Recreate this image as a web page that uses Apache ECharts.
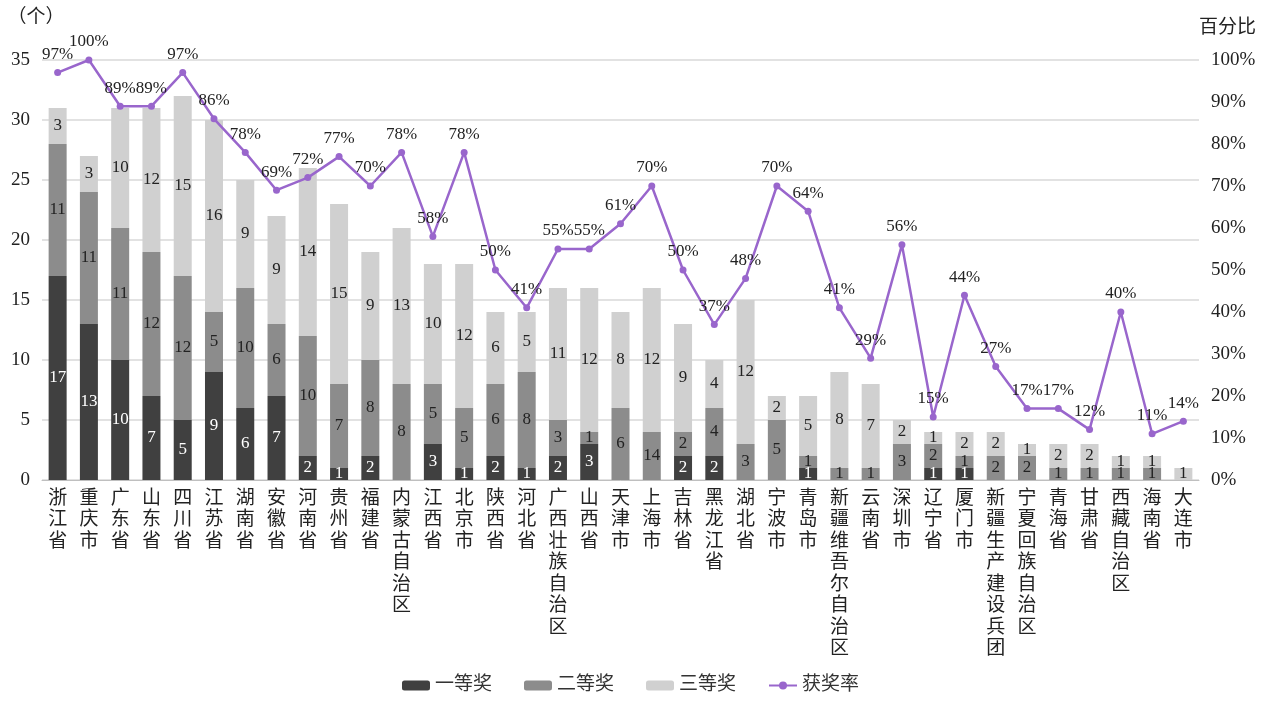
<!DOCTYPE html>
<html>
<head>
<meta charset="utf-8">
<script src="https://cdn.jsdelivr.net/npm/echarts@6/dist/echarts.min.js"></script>
<style>
    html, body { margin: 0; padding: 0; background: #fff; }
    #chart { width: 1261px; height: 702px; }
</style>
</head>
<body>
<div id="chart"></div>
<script>
    var categories = ['浙江省', '重庆市', '广东省', '山东省', '四川省', '江苏省', '湖南省', '安徽省', '河南省', '贵州省',
        '福建省', '内蒙古自治区', '江西省', '北京市', '陕西省', '河北省', '广西壮族自治区', '山西省', '天津市', '上海市',
        '吉林省', '黑龙江省', '湖北省', '宁波市', '青岛市', '新疆维吾尔自治区', '云南省', '深圳市', '辽宁省', '厦门市',
        '新疆生产建设兵团', '宁夏回族自治区', '青海省', '甘肃省', '西藏自治区', '海南省', '大连市'];
    var first = [17, 13, 10, 7, 5, 9, 6, 7, 2, 1, 2, 0, 3, 1, 2, 1, 2, 3, 0, 0, 2, 2, 0, 0, 1, 0, 0, 0, 1, 1, 0, 0, 0, 0, 0, 0, 0];
    var second = [11, 11, 11, 12, 12, 5, 10, 6, 10, 7, 8, 8, 5, 5, 6, 8, 3, 1, 6, 4, 2, 4, 3, 5, 1, 1, 1, 3, 2, 1, 2, 2, 1, 1, 1, 1, 0];
    var third = [3, 3, 10, 12, 15, 16, 9, 9, 14, 15, 9, 13, 10, 12, 6, 5, 11, 12, 8, 12, 9, 4, 12, 2, 5, 8, 7, 2, 1, 2, 2, 1, 2, 2, 1, 1, 1];
    var rate = [97, 100, 89, 89, 97, 86, 78, 69, 72, 77, 70, 78, 58, 78, 50, 41, 55, 55, 61, 70, 50, 37, 48, 70, 64, 41, 29, 56, 15, 44, 27, 17, 17, 12, 40, 11, 14];
    var leftTicks = [0, 35, 5];
    var rightTicks = [0, 100, 10];
    // the printed label on 上海市's 二等奖 segment reads "14"
    var secondLabelText = { 19: '14' };

    var font = "'Liberation Serif', 'Noto Sans CJK SC', serif";
    var chart = echarts.init(document.getElementById('chart'));

    function segLabel (color) {
        return {
            show: true,
            position: 'inside',
            color: color,
            fontFamily: font,
            fontSize: 17,
            formatter: function (p) { return p.value ? String(p.value) : ''; }
        };
    }

    var option = {
        animation: false,
        textStyle: { fontFamily: font },
        legend: {
            bottom: 2,
            left: 'center',
            itemWidth: 28,
            itemHeight: 10,
            itemGap: 32,
            textStyle: { fontFamily: font, fontSize: 19, color: '#333' },
            data: ['一等奖', '二等奖', '三等奖', '获奖率']
        },
        grid: {
            left: 42,
            right: 62,
            top: 60,
            bottom: 222
        },
        xAxis: {
            type: 'category',
            data: categories,
            axisLine: { lineStyle: { color: '#bfbfbf' } },
            axisTick: { show: false },
            axisLabel: {
                interval: 0,
                margin: 8,
                verticalAlign: 'top',
                fontFamily: font,
                fontSize: 19,
                lineHeight: 21.5,
                color: '#222',
                formatter: function (v) { return v.split('').join('\n'); }
            }
        },
        yAxis: [
            {
                type: 'value',
                min: leftTicks[0],
                max: leftTicks[1],
                interval: leftTicks[2],
                name: '（个）',
                nameLocation: 'end',
                nameGap: 32,
                nameTextStyle: { fontFamily: font, fontSize: 19, color: '#222', align: 'center', padding: [0, 0, 0, -12] },
                axisLine: { show: false },
                axisTick: { show: false },
                axisLabel: { fontFamily: font, fontSize: 19, color: '#222', margin: 12 },
                splitLine: { lineStyle: { color: '#d9d9d9', width: 1.5 } }
            },
            {
                type: 'value',
                min: rightTicks[0],
                max: rightTicks[1],
                interval: rightTicks[2],
                name: '百分比',
                nameLocation: 'end',
                nameGap: 22,
                nameTextStyle: { fontFamily: font, fontSize: 19, color: '#222', align: 'left' },
                axisLine: { show: false },
                axisTick: { show: false },
                axisLabel: { fontFamily: font, fontSize: 19, color: '#222', margin: 12, formatter: '{value}%' },
                splitLine: { show: false }
            }
        ],
        series: [
            {
                name: '一等奖',
                type: 'bar',
                stack: 'award',
                barWidth: 18,
                itemStyle: { color: '#404040' },
                label: segLabel('#fff'),
                data: first
            },
            {
                name: '二等奖',
                type: 'bar',
                stack: 'award',
                barWidth: 18,
                itemStyle: { color: '#8c8c8c' },
                label: segLabel('#222'),
                data: second.map(function (v, i) {
                    if (secondLabelText[i]) {
                        return { value: v, label: { formatter: secondLabelText[i] } };
                    }
                    return v;
                })
            },
            {
                name: '三等奖',
                type: 'bar',
                stack: 'award',
                barWidth: 18,
                itemStyle: { color: '#d0d0d0' },
                label: segLabel('#222'),
                data: third
            },
            {
                name: '获奖率',
                type: 'line',
                yAxisIndex: 1,
                symbol: 'circle',
                symbolSize: 7,
                z: 5,
                lineStyle: { color: '#9966cc', width: 2.5 },
                itemStyle: { color: '#9966cc' },
                label: {
                    show: true,
                    position: 'top',
                    distance: 6,
                    fontFamily: font,
                    fontSize: 17,
                    color: '#222',
                    formatter: '{c}%'
                },
                data: rate
            }
        ]
    };
    chart.setOption(option);
</script>
</body>
</html>
